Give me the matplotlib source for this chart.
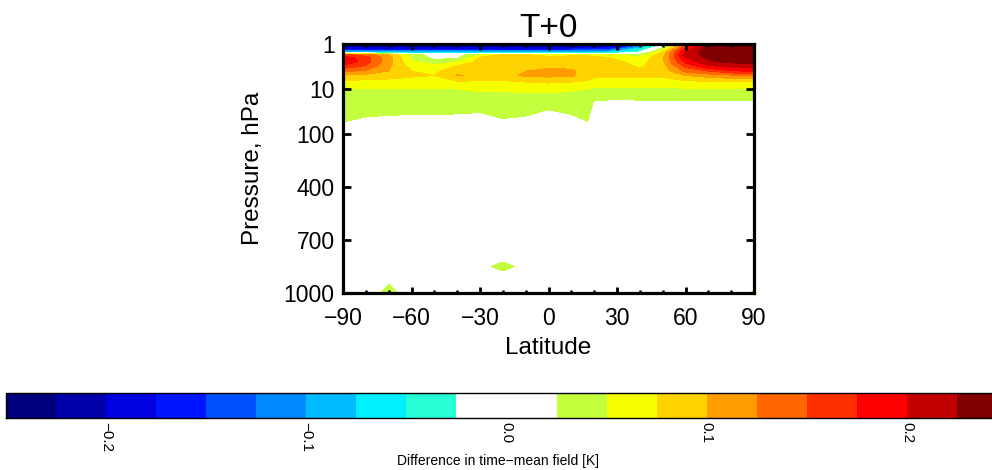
import numpy as np
import matplotlib
matplotlib.use('Agg')
import matplotlib.pyplot as plt
from matplotlib.ticker import FixedLocator, MultipleLocator

plt.rcParams['font.family'] = ['Liberation Sans', 'DejaVu Sans']

# ---------------- data ----------------
latitudes = [-90, -80, -70, -60, -50, -40, -30, -20, -10, 0, 10, 17, 20, 30, 40, 50, 60, 70, 80, 90]
pressure_levels = [1, 1.25, 1.5, 1.75, 2, 2.5, 3, 4, 5, 7, 10, 15, 20, 30, 50, 100,
                   700, 800, 850, 900, 1000]

# one vertical profile (values at pressure_levels) per latitude, in K
profiles = [
    [-0.235, -0.19, -0.10, 0.16, 0.19, 0.20, 0.17, 0.13, 0.095, 0.068, 0.05, 0.045, 0.04, 0.034, 0.027, 0.01, 0.01, 0.01, 0.01, 0.01, 0.01],
    [-0.235, -0.19, -0.10, 0.14, 0.16, 0.16, 0.15, 0.12, 0.09, 0.066, 0.05, 0.045, 0.04, 0.032, 0.02, 0.01, 0.01, 0.01, 0.01, 0.01, 0.01],
    [-0.235, -0.19, -0.10, 0.10, 0.11, 0.11, 0.105, 0.10, 0.085, 0.065, 0.05, 0.043, 0.038, 0.03, 0.018, 0.01, 0.01, 0.01, 0.01, 0.015, 0.034],
    [-0.235, -0.19, -0.10, 0.04, 0.045, 0.055, 0.065, 0.075, 0.078, 0.065, 0.05, 0.044, 0.039, 0.03, 0.016, 0.01, 0.01, 0.01, 0.01, 0.01, 0.01],
    [-0.235, -0.19, -0.10, 0.012, 0.018, 0.035, 0.055, 0.07, 0.075, 0.063, 0.05, 0.045, 0.04, 0.03, 0.016, 0.01, 0.01, 0.01, 0.01, 0.01, 0.01],
    [-0.235, -0.19, -0.10, 0.012, 0.02, 0.05, 0.075, 0.09, 0.102, 0.07, 0.05, 0.045, 0.04, 0.029, 0.015, 0.01, 0.01, 0.01, 0.01, 0.01, 0.01],
    [-0.235, -0.19, -0.10, 0.05, 0.078, 0.085, 0.09, 0.09, 0.095, 0.07, 0.052, 0.045, 0.04, 0.027, 0.015, 0.01, 0.01, 0.01, 0.01, 0.01, 0.01],
    [-0.235, -0.19, -0.10, 0.08, 0.085, 0.09, 0.09, 0.09, 0.09, 0.07, 0.052, 0.045, 0.04, 0.035, 0.022, 0.01, 0.01, 0.01, 0.04, 0.01, 0.01],
    [-0.235, -0.19, -0.10, 0.08, 0.085, 0.09, 0.095, 0.10, 0.105, 0.075, 0.054, 0.045, 0.04, 0.03, 0.02, 0.01, 0.01, 0.01, 0.01, 0.01, 0.01],
    [-0.235, -0.19, -0.10, 0.06, 0.085, 0.09, 0.095, 0.105, 0.106, 0.078, 0.054, 0.045, 0.035, 0.024, 0.015, 0.01, 0.01, 0.01, 0.01, 0.01, 0.01],
    [-0.235, -0.19, -0.10, 0.07, 0.085, 0.09, 0.095, 0.103, 0.104, 0.075, 0.052, 0.044, 0.038, 0.03, 0.015, 0.01, 0.01, 0.01, 0.01, 0.01, 0.01],
    [-0.23, -0.18, -0.09, 0.07, 0.085, 0.09, 0.09, 0.092, 0.09, 0.07, 0.05, 0.044, 0.04, 0.035, 0.026, 0.01, 0.01, 0.01, 0.01, 0.01, 0.01],
    [-0.23, -0.18, -0.09, 0.06, 0.085, 0.09, 0.09, 0.09, 0.082, 0.062, 0.046, 0.032, 0.022, 0.015, 0.01, 0.01, 0.01, 0.01, 0.01, 0.01, 0.01],
    [-0.22, -0.16, -0.07, 0.05, 0.07, 0.08, 0.085, 0.085, 0.08, 0.062, 0.045, 0.028, 0.02, 0.013, 0.01, 0.01, 0.01, 0.01, 0.01, 0.01, 0.01],
    [-0.15, -0.07, -0.025, 0.04, 0.055, 0.065, 0.07, 0.08, 0.08, 0.062, 0.045, 0.03, 0.021, 0.013, 0.01, 0.01, 0.01, 0.01, 0.01, 0.01, 0.01],
    [-0.04, 0.03, 0.08, 0.09, 0.095, 0.095, 0.09, 0.085, 0.08, 0.062, 0.045, 0.03, 0.021, 0.013, 0.01, 0.01, 0.01, 0.01, 0.01, 0.01, 0.01],
    [0.15, 0.175, 0.20, 0.21, 0.20, 0.18, 0.16, 0.13, 0.10, 0.068, 0.048, 0.031, 0.021, 0.013, 0.01, 0.01, 0.01, 0.01, 0.01, 0.01, 0.01],
    [0.24, 0.24, 0.24, 0.235, 0.23, 0.22, 0.20, 0.15, 0.11, 0.07, 0.048, 0.031, 0.021, 0.013, 0.01, 0.01, 0.01, 0.01, 0.01, 0.01, 0.01],
    [0.245, 0.245, 0.245, 0.24, 0.238, 0.23, 0.21, 0.17, 0.12, 0.07, 0.048, 0.031, 0.021, 0.013, 0.01, 0.01, 0.01, 0.01, 0.01, 0.01, 0.01],
    [0.245, 0.245, 0.245, 0.245, 0.24, 0.235, 0.215, 0.18, 0.12, 0.07, 0.048, 0.032, 0.022, 0.013, 0.01, 0.01, 0.01, 0.01, 0.01, 0.01, 0.028],
]

contour_levels = [-0.25, -0.225, -0.2, -0.175, -0.15, -0.125, -0.1, -0.075, -0.05, -0.025,
                  0.025, 0.05, 0.075, 0.1, 0.125, 0.15, 0.175, 0.2, 0.225, 0.25]
level_colors = ['#00007F', '#0000AA', '#0000E0', '#0015FF', '#0052FF', '#0088FF',
                '#00BBFF', '#00F0FF', '#28FFD4', '#FFFFFF',
                '#C3FF3C', '#F5FF00', '#FFD200', '#FF9C00', '#FF6600', '#FF3000',
                '#FF0000', '#C20000', '#800000']

lat_ticks = [-90, -60, -30, 0, 30, 60, 90]
lat_ticklabels = ['\u221290', '\u221260', '\u221230', '0', '30', '60', '90']
p_ticks = [1, 10, 100, 400, 700, 1000]
p_ticklabels = ['1', '10', '100', '400', '700', '1000']
cbar_ticks = [-0.2, -0.1, 0.0, 0.1, 0.2]
cbar_ticklabels = ['\u22120.2', '\u22120.1', '0.0', '0.1', '0.2']

# ---------------- vertical axis: log above 100 hPa, linear below ----------------
def p_forward(p):
    p = np.clip(np.asarray(p, dtype=float), 1e-6, None)
    return np.where(p <= 100, 45.0 * np.log10(np.minimum(p, 100)), 90.0 + (p - 100) * 159.0 / 900.0)

def p_inverse(y):
    y = np.asarray(y, dtype=float)
    return np.where(y <= 90, 10 ** (np.minimum(y, 90) / 45.0), 100 + (y - 90) * 900.0 / 159.0)

# ---------------- figure ----------------
fig = plt.figure(figsize=(9.92, 4.70), dpi=100)
ax = fig.add_axes([343 / 992, 1 - 293 / 470, 411 / 992, 249 / 470])

field = np.array(profiles).T
cf = ax.contourf(latitudes, pressure_levels, field, levels=contour_levels, colors=level_colors)

ax.set_yscale('function', functions=(p_forward, p_inverse))
ax.set_ylim(1000, 1)
ax.set_xlim(-90, 90)

ax.yaxis.set_major_locator(FixedLocator(p_ticks))
ax.set_yticklabels(p_ticklabels)
ax.yaxis.set_minor_locator(FixedLocator([]))
ax.set_xticks(lat_ticks)
ax.set_xticklabels(lat_ticklabels)
ax.xaxis.set_minor_locator(MultipleLocator(10))

ax.tick_params(axis='both', which='major', direction='in', top=True, right=True,
               labelsize=16.5, width=2.0, color='black')
ax.tick_params(axis='y', which='major', length=5.5, pad=6)
ax.tick_params(axis='x', which='major', length=4, pad=10)
ax.tick_params(axis='x', which='minor', direction='in', top=True, length=2, width=1.8)
for s in ax.spines.values():
    s.set_linewidth(2.3)

ax.set_xlabel('Latitude', fontsize=17.5, labelpad=5)
ax.set_ylabel('Pressure, hPa', fontsize=17.5, labelpad=14)
ax.set_title('T+0', fontsize=24, pad=5)

# ---------------- colour bar ----------------
cax = fig.add_axes([6 / 992, 1 - 418 / 470, 1001 / 992, 25 / 470])
cb = fig.colorbar(cf, cax=cax, orientation='horizontal', spacing='proportional', ticks=cbar_ticks)
cb.ax.set_xticklabels(cbar_ticklabels, rotation=-90, fontsize=11)
cb.ax.tick_params(length=0, pad=3)
cb.outline.set_linewidth(1.0)
fig.text(498 / 992, 1 - 461 / 470, 'Difference in time\u2212mean field [K]', fontsize=10,
         ha='center', va='center')

fig.savefig('out.png', dpi=100)
